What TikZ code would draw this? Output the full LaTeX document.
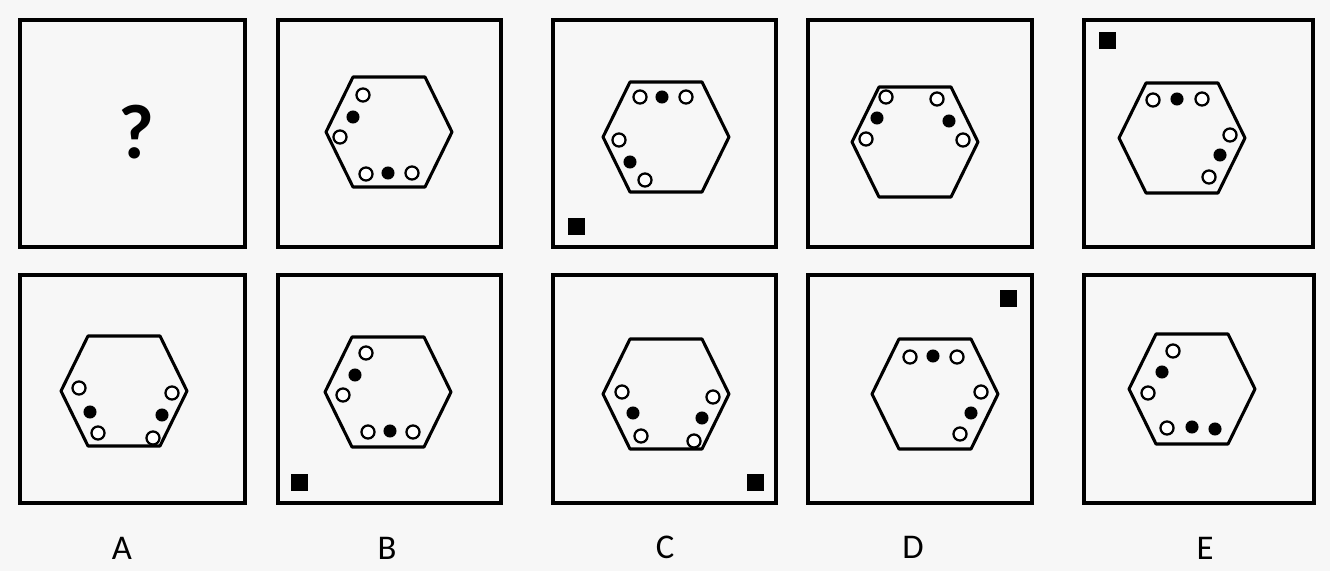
\documentclass[tikz,border=0pt]{standalone}
\usepackage{fontspec}
\setmainfont{Carlito}
\definecolor{bgc}{RGB}{247,247,247}
\tikzset{
  panel/.style={draw=black, line width=3pt},
  hexline/.style={draw=black, line width=2.3pt, line join=round},
  ring/.style={draw=black, line width=1.7pt, fill=white},
  blackdot/.style={fill=black},
  marksq/.style={fill=black},
  lab/.style={font=\fontsize{26}{26}\selectfont, inner sep=0pt}
}
\newcommand\hexat[2]{\draw[hexline] (#1-63,#2) -- (#1-36,#2-55) -- (#1+36,#2-55) -- (#1+63,#2) -- (#1+36,#2+55) -- (#1-36,#2+55) -- cycle;}
\newcommand\ringat[2]{\draw[ring] (#1,#2) circle[radius=4.9pt];}
\newcommand\dotat[2]{\fill[blackdot] (#1,#2) circle[radius=4.9pt];}
\newcommand\sqat[2]{\fill[marksq] (#1-8.5,#2-8.5) rectangle (#1+8.5,#2+8.5);}
\begin{document}
\begin{tikzpicture}[x=0.75pt,y=-0.75pt]
\fill[bgc] (0,0) rectangle (1330,571);
\useasboundingbox (0,0) rectangle (1330,571);
% panels top row
\draw[panel] (20,20) rectangle (245,247);
\draw[panel] (278,20) rectangle (501,247);
\draw[panel] (553,20) rectangle (776,247);
\draw[panel] (808,20) rectangle (1032,247);
\draw[panel] (1084,20) rectangle (1313,247);
% panels bottom row
\draw[panel] (20,275) rectangle (245,503);
\draw[panel] (278,275) rectangle (501,503);
\draw[panel] (553,275) rectangle (776,503);
\draw[panel] (808,275) rectangle (1032,503);
\draw[panel] (1084,275) rectangle (1314,503);
% question mark
\node[inner sep=0pt, font=\fontsize{58}{58}\selectfont\bfseries] (q) at (136,132) {?};
% top 2
\begin{scope}[shift={(389,132)}]
\hexat{0}{0}
\ringat{-26}{-37}\dotat{-36}{-15}\ringat{-49}{5}
\ringat{-23}{42}\dotat{-1}{41}\ringat{23}{41}
\end{scope}
% top 3
\begin{scope}[shift={(666,137)}]
\hexat{0}{0}
\ringat{-26}{-40}\dotat{-4}{-40}\ringat{20}{-40}
\ringat{-47}{3}\dotat{-36}{25}\ringat{-21}{43}
\end{scope}
\sqat{576}{226}
% top 4
\begin{scope}[shift={(915,142)}]
\hexat{0}{0}
\ringat{-29}{-45}\dotat{-38}{-24}\ringat{-49}{-3}
\ringat{22}{-43}\dotat{34}{-21}\ringat{48}{-2}
\end{scope}
% top 5
\begin{scope}[shift={(1182,138)}]
\hexat{0}{0}
\ringat{-29}{-38}\dotat{-5}{-39}\ringat{20}{-39}
\ringat{48}{-3}\dotat{38}{17}\ringat{27}{39}
\end{scope}
\sqat{1107}{40}
% bottom A
\begin{scope}[shift={(124,391)}]
\hexat{0}{0}
\ringat{-45}{-3}\dotat{-34}{21}\ringat{-26}{42}
\ringat{48}{2}\dotat{38}{24}\ringat{29}{47}
\end{scope}
% bottom B
\begin{scope}[shift={(388,392)}]
\hexat{0}{0}
\ringat{-22}{-39}\dotat{-33}{-17}\ringat{-45}{3}
\ringat{-20}{40}\dotat{2}{39}\ringat{25}{40}
\end{scope}
\sqat{299}{482}
% bottom C
\begin{scope}[shift={(666,394)}]
\hexat{0}{0}
\ringat{-44}{-2}\dotat{-33}{19}\ringat{-25}{42}
\ringat{47}{3}\dotat{36}{24}\ringat{28}{47}
\end{scope}
\sqat{755}{482}
% bottom D
\begin{scope}[shift={(935,394)}]
\hexat{0}{0}
\ringat{-25}{-37}\dotat{-2}{-38}\ringat{22}{-37}
\ringat{46}{-2}\dotat{36}{19}\ringat{25}{40}
\end{scope}
\sqat{1008}{298}
% bottom E
\begin{scope}[shift={(1192,389)}]
\hexat{0}{0}
\ringat{-19}{-38}\dotat{-30}{-17}\ringat{-44}{4}
\ringat{-25}{39}\dotat{0}{38}\dotat{23}{40}
\end{scope}
% labels
\node[lab] (la) at (122,548) {A};
\node[lab] (lb) at (387,548) {B};
\node[lab] (lc) at (665,547) {C};
\node[lab] (ld) at (913,547) {D};
\node[lab] (le) at (1205,548) {E};
\end{tikzpicture}
\end{document}
